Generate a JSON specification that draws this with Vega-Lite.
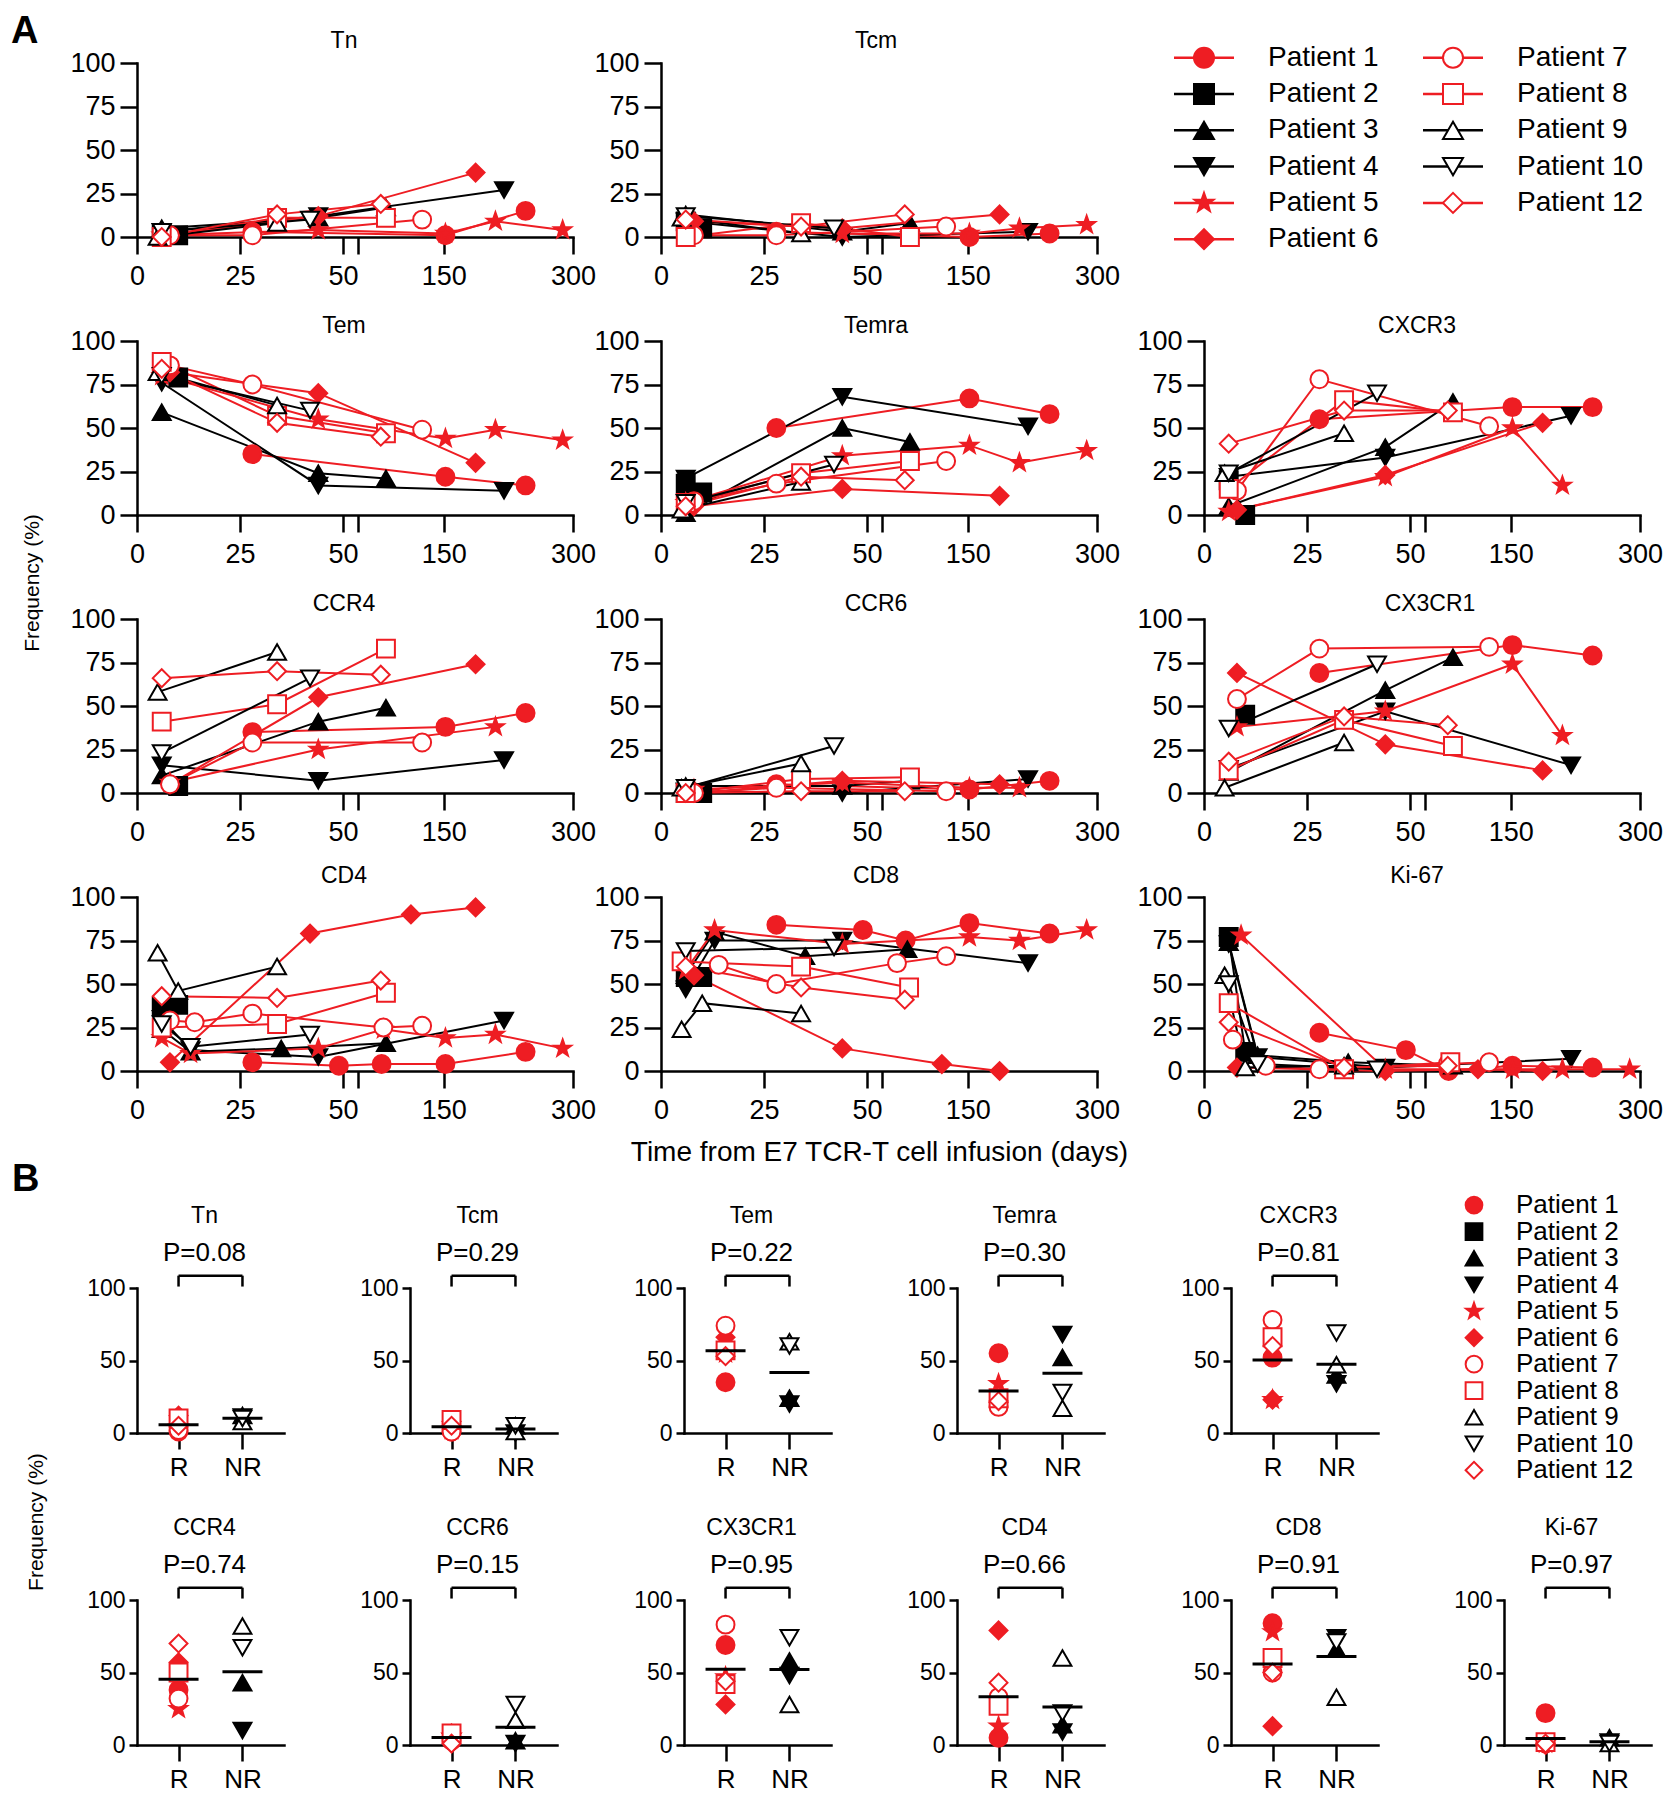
{
"$schema":"https://vega.github.io/schema/vega-lite/v6.json",
"background":"white",
"padding":{"left":11,"top":13,"right":0,"bottom":0},
"config":{
 "view":{"stroke":null},
 "font":"Liberation Sans",
 "axis":{"domainColor":"#000","domainWidth":2.5,"domainCap":"square","tickColor":"#000","tickWidth":2.5,"labelColor":"#000","labelFont":"Liberation Sans","labelFontSize":27,"grid":false,"titleFont":"Liberation Sans","titleFontWeight":"normal","titleColor":"#000","titleFontSize":24,"labelOverlap":false,"labelFlush":false,"tickSize":17,"labelPadding":9},
 "axisY":{"labelPadding":5},
 "title":{"font":"Liberation Sans","fontSize":23,"fontWeight":"normal","color":"#000","offset":-11,"subtitleFont":"Liberation Sans","subtitleFontSize":26,"subtitleColor":"#000","subtitlePadding":12},
 "line":{"strokeWidth":2},
 "point":{"opacity":1,"strokeWidth":2,"size":320},
 "tick":{"opacity":1},
 "rule":{"strokeWidth":2.5,"color":"#000"}
},
"datasets":{
"ts":[
{"m":"Tn","p":1,"d":28,"v":3},{"m":"Tn","p":1,"d":152,"v":1},{"m":"Tn","p":1,"d":245,"v":15},
{"m":"Tn","p":2,"d":6,"v":2},{"m":"Tn","p":2,"d":10,"v":1},
{"m":"Tn","p":3,"d":6,"v":5},{"m":"Tn","p":3,"d":44,"v":11},{"m":"Tn","p":3,"d":83,"v":17},
{"m":"Tn","p":4,"d":6,"v":3},{"m":"Tn","p":4,"d":44,"v":12},{"m":"Tn","p":4,"d":220,"v":27},
{"m":"Tn","p":5,"d":6,"v":1},{"m":"Tn","p":5,"d":44,"v":4},{"m":"Tn","p":5,"d":152,"v":2},{"m":"Tn","p":5,"d":210,"v":9},{"m":"Tn","p":5,"d":288,"v":4},
{"m":"Tn","p":6,"d":8,"v":1},{"m":"Tn","p":6,"d":44,"v":12},{"m":"Tn","p":6,"d":187,"v":37},
{"m":"Tn","p":7,"d":8,"v":1},{"m":"Tn","p":7,"d":28,"v":1},{"m":"Tn","p":7,"d":125,"v":10},
{"m":"Tn","p":8,"d":6,"v":0},{"m":"Tn","p":8,"d":34,"v":11},{"m":"Tn","p":8,"d":83,"v":11},
{"m":"Tn","p":9,"d":5,"v":0},{"m":"Tn","p":9,"d":34,"v":8},
{"m":"Tn","p":10,"d":6,"v":3},{"m":"Tn","p":10,"d":42,"v":10},
{"m":"Tn","p":12,"d":6,"v":0},{"m":"Tn","p":12,"d":34,"v":13},{"m":"Tn","p":12,"d":77,"v":19},
{"m":"Tcm","p":1,"d":28,"v":3},{"m":"Tcm","p":1,"d":152,"v":0},{"m":"Tcm","p":1,"d":245,"v":2},
{"m":"Tcm","p":2,"d":6,"v":9},{"m":"Tcm","p":2,"d":10,"v":5},
{"m":"Tcm","p":3,"d":6,"v":13},{"m":"Tcm","p":3,"d":44,"v":3},{"m":"Tcm","p":3,"d":83,"v":8},
{"m":"Tcm","p":4,"d":6,"v":9},{"m":"Tcm","p":4,"d":44,"v":0},{"m":"Tcm","p":4,"d":220,"v":3},
{"m":"Tcm","p":5,"d":44,"v":2},{"m":"Tcm","p":5,"d":152,"v":2},{"m":"Tcm","p":5,"d":210,"v":5},{"m":"Tcm","p":5,"d":288,"v":7},
{"m":"Tcm","p":6,"d":8,"v":9},{"m":"Tcm","p":6,"d":44,"v":5},{"m":"Tcm","p":6,"d":187,"v":13},
{"m":"Tcm","p":7,"d":8,"v":1},{"m":"Tcm","p":7,"d":28,"v":1},{"m":"Tcm","p":7,"d":125,"v":6},
{"m":"Tcm","p":8,"d":6,"v":0},{"m":"Tcm","p":8,"d":34,"v":8},{"m":"Tcm","p":8,"d":83,"v":0},
{"m":"Tcm","p":9,"d":5,"v":11},{"m":"Tcm","p":9,"d":34,"v":2},
{"m":"Tcm","p":10,"d":6,"v":12},{"m":"Tcm","p":10,"d":42,"v":5},
{"m":"Tcm","p":12,"d":6,"v":10},{"m":"Tcm","p":12,"d":34,"v":6},{"m":"Tcm","p":12,"d":77,"v":13},
{"m":"Tem","p":1,"d":28,"v":35},{"m":"Tem","p":1,"d":152,"v":22},{"m":"Tem","p":1,"d":245,"v":17},
{"m":"Tem","p":2,"d":10,"v":79},
{"m":"Tem","p":3,"d":6,"v":59},{"m":"Tem","p":3,"d":44,"v":24},{"m":"Tem","p":3,"d":83,"v":21},
{"m":"Tem","p":4,"d":6,"v":76},{"m":"Tem","p":4,"d":44,"v":17},{"m":"Tem","p":4,"d":220,"v":14},
{"m":"Tem","p":5,"d":6,"v":80},{"m":"Tem","p":5,"d":44,"v":55},{"m":"Tem","p":5,"d":152,"v":44},{"m":"Tem","p":5,"d":210,"v":49},{"m":"Tem","p":5,"d":288,"v":43},
{"m":"Tem","p":6,"d":8,"v":82},{"m":"Tem","p":6,"d":44,"v":70},{"m":"Tem","p":6,"d":187,"v":30},
{"m":"Tem","p":7,"d":8,"v":86},{"m":"Tem","p":7,"d":28,"v":75},{"m":"Tem","p":7,"d":125,"v":49},
{"m":"Tem","p":8,"d":6,"v":88},{"m":"Tem","p":8,"d":34,"v":57},{"m":"Tem","p":8,"d":83,"v":47},
{"m":"Tem","p":9,"d":5,"v":82},{"m":"Tem","p":9,"d":34,"v":63},
{"m":"Tem","p":10,"d":6,"v":80},{"m":"Tem","p":10,"d":42,"v":60},
{"m":"Tem","p":12,"d":6,"v":84},{"m":"Tem","p":12,"d":34,"v":53},{"m":"Tem","p":12,"d":77,"v":45},
{"m":"Temra","p":1,"d":28,"v":50},{"m":"Temra","p":1,"d":152,"v":67},{"m":"Temra","p":1,"d":245,"v":58},
{"m":"Temra","p":2,"d":6,"v":18},{"m":"Temra","p":2,"d":10,"v":13},
{"m":"Temra","p":3,"d":6,"v":1},{"m":"Temra","p":3,"d":44,"v":50},{"m":"Temra","p":3,"d":83,"v":42},
{"m":"Temra","p":4,"d":6,"v":21},{"m":"Temra","p":4,"d":44,"v":68},{"m":"Temra","p":4,"d":220,"v":51},
{"m":"Temra","p":5,"d":6,"v":7},{"m":"Temra","p":5,"d":44,"v":34},{"m":"Temra","p":5,"d":152,"v":40},{"m":"Temra","p":5,"d":210,"v":30},{"m":"Temra","p":5,"d":288,"v":37},
{"m":"Temra","p":6,"d":8,"v":5},{"m":"Temra","p":6,"d":44,"v":15},{"m":"Temra","p":6,"d":187,"v":11},
{"m":"Temra","p":7,"d":8,"v":8},{"m":"Temra","p":7,"d":28,"v":18},{"m":"Temra","p":7,"d":125,"v":31},
{"m":"Temra","p":8,"d":6,"v":7},{"m":"Temra","p":8,"d":34,"v":24},{"m":"Temra","p":8,"d":83,"v":31},
{"m":"Temra","p":9,"d":5,"v":3},{"m":"Temra","p":9,"d":34,"v":19},
{"m":"Temra","p":10,"d":6,"v":7},{"m":"Temra","p":10,"d":42,"v":29},
{"m":"Temra","p":12,"d":6,"v":5},{"m":"Temra","p":12,"d":34,"v":22},{"m":"Temra","p":12,"d":77,"v":20},
{"m":"CXCR3","p":1,"d":28,"v":55},{"m":"CXCR3","p":1,"d":152,"v":62},{"m":"CXCR3","p":1,"d":245,"v":62},
{"m":"CXCR3","p":2,"d":6,"v":20},{"m":"CXCR3","p":2,"d":10,"v":0},
{"m":"CXCR3","p":3,"d":6,"v":5},{"m":"CXCR3","p":3,"d":44,"v":39},{"m":"CXCR3","p":3,"d":83,"v":65},
{"m":"CXCR3","p":4,"d":6,"v":22},{"m":"CXCR3","p":4,"d":44,"v":33},{"m":"CXCR3","p":4,"d":220,"v":57},
{"m":"CXCR3","p":5,"d":6,"v":2},{"m":"CXCR3","p":5,"d":44,"v":22},{"m":"CXCR3","p":5,"d":152,"v":50},{"m":"CXCR3","p":5,"d":210,"v":17},
{"m":"CXCR3","p":6,"d":8,"v":3},{"m":"CXCR3","p":6,"d":44,"v":23},{"m":"CXCR3","p":6,"d":187,"v":53},
{"m":"CXCR3","p":7,"d":8,"v":14},{"m":"CXCR3","p":7,"d":28,"v":78},{"m":"CXCR3","p":7,"d":125,"v":51},
{"m":"CXCR3","p":8,"d":6,"v":15},{"m":"CXCR3","p":8,"d":34,"v":66},{"m":"CXCR3","p":8,"d":83,"v":59},
{"m":"CXCR3","p":9,"d":5,"v":24},{"m":"CXCR3","p":9,"d":34,"v":47},
{"m":"CXCR3","p":10,"d":6,"v":24},{"m":"CXCR3","p":10,"d":42,"v":70},
{"m":"CXCR3","p":12,"d":6,"v":41},{"m":"CXCR3","p":12,"d":34,"v":60},{"m":"CXCR3","p":12,"d":77,"v":60},
{"m":"CCR4","p":1,"d":28,"v":35},{"m":"CCR4","p":1,"d":152,"v":38},{"m":"CCR4","p":1,"d":245,"v":46},
{"m":"CCR4","p":2,"d":10,"v":4},
{"m":"CCR4","p":3,"d":6,"v":10},{"m":"CCR4","p":3,"d":44,"v":41},{"m":"CCR4","p":3,"d":83,"v":49},
{"m":"CCR4","p":4,"d":6,"v":16},{"m":"CCR4","p":4,"d":44,"v":7},{"m":"CCR4","p":4,"d":220,"v":19},
{"m":"CCR4","p":5,"d":8,"v":6},{"m":"CCR4","p":5,"d":44,"v":25},{"m":"CCR4","p":5,"d":210,"v":38},
{"m":"CCR4","p":6,"d":8,"v":5},{"m":"CCR4","p":6,"d":44,"v":55},{"m":"CCR4","p":6,"d":187,"v":74},
{"m":"CCR4","p":7,"d":8,"v":5},{"m":"CCR4","p":7,"d":28,"v":29},{"m":"CCR4","p":7,"d":125,"v":29},
{"m":"CCR4","p":8,"d":6,"v":41},{"m":"CCR4","p":8,"d":34,"v":51},{"m":"CCR4","p":8,"d":83,"v":83},
{"m":"CCR4","p":9,"d":5,"v":58},{"m":"CCR4","p":9,"d":34,"v":81},
{"m":"CCR4","p":10,"d":6,"v":23},{"m":"CCR4","p":10,"d":42,"v":66},
{"m":"CCR4","p":12,"d":6,"v":66},{"m":"CCR4","p":12,"d":34,"v":70},{"m":"CCR4","p":12,"d":77,"v":68},
{"m":"CCR6","p":1,"d":28,"v":5},{"m":"CCR6","p":1,"d":152,"v":2},{"m":"CCR6","p":1,"d":245,"v":7},
{"m":"CCR6","p":2,"d":6,"v":0},{"m":"CCR6","p":2,"d":10,"v":0},
{"m":"CCR6","p":3,"d":6,"v":4},{"m":"CCR6","p":3,"d":44,"v":4},{"m":"CCR6","p":3,"d":83,"v":7},
{"m":"CCR6","p":4,"d":6,"v":1},{"m":"CCR6","p":4,"d":44,"v":0},{"m":"CCR6","p":4,"d":220,"v":8},
{"m":"CCR6","p":5,"d":8,"v":2},{"m":"CCR6","p":5,"d":44,"v":6},{"m":"CCR6","p":5,"d":152,"v":3},{"m":"CCR6","p":5,"d":210,"v":3},
{"m":"CCR6","p":6,"d":8,"v":0},{"m":"CCR6","p":6,"d":44,"v":7},{"m":"CCR6","p":6,"d":187,"v":5},
{"m":"CCR6","p":7,"d":8,"v":0},{"m":"CCR6","p":7,"d":28,"v":3},{"m":"CCR6","p":7,"d":125,"v":1},
{"m":"CCR6","p":8,"d":6,"v":0},{"m":"CCR6","p":8,"d":34,"v":8},{"m":"CCR6","p":8,"d":83,"v":9},
{"m":"CCR6","p":9,"d":5,"v":3},{"m":"CCR6","p":9,"d":34,"v":17},
{"m":"CCR6","p":10,"d":6,"v":3},{"m":"CCR6","p":10,"d":42,"v":27},
{"m":"CCR6","p":12,"d":6,"v":0},{"m":"CCR6","p":12,"d":34,"v":1},{"m":"CCR6","p":12,"d":77,"v":1},
{"m":"CX3CR1","p":1,"d":28,"v":69},{"m":"CX3CR1","p":1,"d":152,"v":85},{"m":"CX3CR1","p":1,"d":245,"v":79},
{"m":"CX3CR1","p":2,"d":10,"v":45},
{"m":"CX3CR1","p":3,"d":6,"v":12},{"m":"CX3CR1","p":3,"d":44,"v":59},{"m":"CX3CR1","p":3,"d":83,"v":78},
{"m":"CX3CR1","p":4,"d":6,"v":14},{"m":"CX3CR1","p":4,"d":44,"v":47},{"m":"CX3CR1","p":4,"d":220,"v":16},
{"m":"CX3CR1","p":5,"d":8,"v":38},{"m":"CX3CR1","p":5,"d":44,"v":47},{"m":"CX3CR1","p":5,"d":152,"v":74},{"m":"CX3CR1","p":5,"d":210,"v":33},
{"m":"CX3CR1","p":6,"d":8,"v":69},{"m":"CX3CR1","p":6,"d":44,"v":28},{"m":"CX3CR1","p":6,"d":187,"v":13},
{"m":"CX3CR1","p":7,"d":8,"v":54},{"m":"CX3CR1","p":7,"d":28,"v":83},{"m":"CX3CR1","p":7,"d":125,"v":84},
{"m":"CX3CR1","p":8,"d":6,"v":13},{"m":"CX3CR1","p":8,"d":34,"v":42},{"m":"CX3CR1","p":8,"d":83,"v":27},
{"m":"CX3CR1","p":9,"d":5,"v":3},{"m":"CX3CR1","p":9,"d":34,"v":29},
{"m":"CX3CR1","p":10,"d":6,"v":37},{"m":"CX3CR1","p":10,"d":42,"v":74},
{"m":"CX3CR1","p":12,"d":6,"v":18},{"m":"CX3CR1","p":12,"d":34,"v":44},{"m":"CX3CR1","p":12,"d":77,"v":39},
{"m":"CD4","p":1,"d":28,"v":5},{"m":"CD4","p":1,"d":49,"v":3},{"m":"CD4","p":1,"d":78,"v":4},{"m":"CD4","p":1,"d":152,"v":4},{"m":"CD4","p":1,"d":245,"v":11},
{"m":"CD4","p":2,"d":6,"v":37},{"m":"CD4","p":2,"d":10,"v":38},
{"m":"CD4","p":3,"d":6,"v":24},{"m":"CD4","p":3,"d":13,"v":11},{"m":"CD4","p":3,"d":35,"v":13},{"m":"CD4","p":3,"d":83,"v":16},
{"m":"CD4","p":4,"d":6,"v":30},{"m":"CD4","p":4,"d":13,"v":12},{"m":"CD4","p":4,"d":44,"v":8},{"m":"CD4","p":4,"d":220,"v":29},
{"m":"CD4","p":5,"d":6,"v":19},{"m":"CD4","p":5,"d":13,"v":10},{"m":"CD4","p":5,"d":44,"v":13},{"m":"CD4","p":5,"d":80,"v":24},{"m":"CD4","p":5,"d":152,"v":19},{"m":"CD4","p":5,"d":210,"v":21},{"m":"CD4","p":5,"d":288,"v":13},
{"m":"CD4","p":6,"d":8,"v":5},{"m":"CD4","p":6,"d":42,"v":79},{"m":"CD4","p":6,"d":112,"v":90},{"m":"CD4","p":6,"d":187,"v":94},
{"m":"CD4","p":7,"d":8,"v":29},{"m":"CD4","p":7,"d":14,"v":28},{"m":"CD4","p":7,"d":28,"v":33},{"m":"CD4","p":7,"d":80,"v":25},{"m":"CD4","p":7,"d":125,"v":26},
{"m":"CD4","p":8,"d":6,"v":25},{"m":"CD4","p":8,"d":34,"v":27},{"m":"CD4","p":8,"d":83,"v":45},
{"m":"CD4","p":9,"d":5,"v":68},{"m":"CD4","p":9,"d":10,"v":46},{"m":"CD4","p":9,"d":34,"v":60},
{"m":"CD4","p":10,"d":6,"v":27},{"m":"CD4","p":10,"d":13,"v":14},{"m":"CD4","p":10,"d":42,"v":21},
{"m":"CD4","p":12,"d":6,"v":43},{"m":"CD4","p":12,"d":34,"v":42},{"m":"CD4","p":12,"d":77,"v":52},
{"m":"CD8","p":1,"d":28,"v":84},{"m":"CD8","p":1,"d":49,"v":81},{"m":"CD8","p":1,"d":78,"v":75},{"m":"CD8","p":1,"d":152,"v":85},{"m":"CD8","p":1,"d":245,"v":79},
{"m":"CD8","p":2,"d":6,"v":54},{"m":"CD8","p":2,"d":10,"v":54},
{"m":"CD8","p":3,"d":6,"v":55},{"m":"CD8","p":3,"d":13,"v":80},{"m":"CD8","p":3,"d":35,"v":66},{"m":"CD8","p":3,"d":80,"v":70},
{"m":"CD8","p":4,"d":6,"v":47},{"m":"CD8","p":4,"d":13,"v":75},{"m":"CD8","p":4,"d":44,"v":75},{"m":"CD8","p":4,"d":220,"v":62},
{"m":"CD8","p":5,"d":6,"v":58},{"m":"CD8","p":5,"d":13,"v":81},{"m":"CD8","p":5,"d":44,"v":73},{"m":"CD8","p":5,"d":152,"v":77},{"m":"CD8","p":5,"d":210,"v":75},{"m":"CD8","p":5,"d":288,"v":81},
{"m":"CD8","p":6,"d":8,"v":55},{"m":"CD8","p":6,"d":44,"v":13},{"m":"CD8","p":6,"d":120,"v":4},{"m":"CD8","p":6,"d":187,"v":0},
{"m":"CD8","p":7,"d":14,"v":61},{"m":"CD8","p":7,"d":28,"v":50},{"m":"CD8","p":7,"d":68,"v":62},{"m":"CD8","p":7,"d":125,"v":66},
{"m":"CD8","p":8,"d":5,"v":63},{"m":"CD8","p":8,"d":34,"v":60},{"m":"CD8","p":8,"d":82,"v":48},
{"m":"CD8","p":9,"d":5,"v":24},{"m":"CD8","p":9,"d":10,"v":39},{"m":"CD8","p":9,"d":34,"v":33},
{"m":"CD8","p":10,"d":6,"v":69},{"m":"CD8","p":10,"d":42,"v":71},
{"m":"CD8","p":12,"d":6,"v":60},{"m":"CD8","p":12,"d":34,"v":48},{"m":"CD8","p":12,"d":77,"v":41},
{"m":"Ki-67","p":1,"d":28,"v":22},{"m":"Ki-67","p":1,"d":49,"v":12},{"m":"Ki-67","p":1,"d":78,"v":0},{"m":"Ki-67","p":1,"d":152,"v":3},{"m":"Ki-67","p":1,"d":245,"v":2},
{"m":"Ki-67","p":2,"d":6,"v":77},{"m":"Ki-67","p":2,"d":10,"v":11},
{"m":"Ki-67","p":3,"d":6,"v":74},{"m":"Ki-67","p":3,"d":13,"v":9},{"m":"Ki-67","p":3,"d":35,"v":5},{"m":"Ki-67","p":3,"d":83,"v":3},
{"m":"Ki-67","p":4,"d":6,"v":73},{"m":"Ki-67","p":4,"d":13,"v":8},{"m":"Ki-67","p":4,"d":44,"v":2},{"m":"Ki-67","p":4,"d":220,"v":7},
{"m":"Ki-67","p":5,"d":9,"v":78},{"m":"Ki-67","p":5,"d":44,"v":1},{"m":"Ki-67","p":5,"d":152,"v":1},{"m":"Ki-67","p":5,"d":210,"v":1},{"m":"Ki-67","p":5,"d":288,"v":1},
{"m":"Ki-67","p":6,"d":8,"v":2},{"m":"Ki-67","p":6,"d":44,"v":0},{"m":"Ki-67","p":6,"d":112,"v":1},{"m":"Ki-67","p":6,"d":187,"v":0},
{"m":"Ki-67","p":7,"d":7,"v":18},{"m":"Ki-67","p":7,"d":15,"v":3},{"m":"Ki-67","p":7,"d":28,"v":1},{"m":"Ki-67","p":7,"d":77,"v":4},{"m":"Ki-67","p":7,"d":125,"v":5},
{"m":"Ki-67","p":8,"d":6,"v":39},{"m":"Ki-67","p":8,"d":34,"v":1},{"m":"Ki-67","p":8,"d":80,"v":5},
{"m":"Ki-67","p":9,"d":5,"v":55},{"m":"Ki-67","p":9,"d":10,"v":2},{"m":"Ki-67","p":9,"d":34,"v":3},
{"m":"Ki-67","p":10,"d":6,"v":50},{"m":"Ki-67","p":10,"d":13,"v":4},{"m":"Ki-67","p":10,"d":42,"v":1},
{"m":"Ki-67","p":12,"d":6,"v":28},{"m":"Ki-67","p":12,"d":34,"v":2},{"m":"Ki-67","p":12,"d":77,"v":3}
],
"bs":[
{"m":"Tn","g":"R","p":1,"v":1},{"m":"Tn","g":"R","p":5,"v":4},{"m":"Tn","g":"R","p":6,"v":12},{"m":"Tn","g":"R","p":7,"v":2},{"m":"Tn","g":"R","p":8,"v":10},{"m":"Tn","g":"R","p":12,"v":5},
{"m":"Tn","g":"NR","p":3,"v":12},{"m":"Tn","g":"NR","p":4,"v":11},{"m":"Tn","g":"NR","p":9,"v":8},{"m":"Tn","g":"NR","p":10,"v":10},
{"m":"Tcm","g":"R","p":1,"v":1},{"m":"Tcm","g":"R","p":5,"v":2},{"m":"Tcm","g":"R","p":6,"v":8},{"m":"Tcm","g":"R","p":7,"v":1},{"m":"Tcm","g":"R","p":8,"v":9},{"m":"Tcm","g":"R","p":12,"v":5},
{"m":"Tcm","g":"NR","p":3,"v":5},{"m":"Tcm","g":"NR","p":4,"v":0},{"m":"Tcm","g":"NR","p":9,"v":1},{"m":"Tcm","g":"NR","p":10,"v":5},
{"m":"Tem","g":"R","p":1,"v":35},{"m":"Tem","g":"R","p":5,"v":55},{"m":"Tem","g":"R","p":6,"v":66},{"m":"Tem","g":"R","p":7,"v":74},{"m":"Tem","g":"R","p":8,"v":57},{"m":"Tem","g":"R","p":12,"v":53},
{"m":"Tem","g":"NR","p":3,"v":24},{"m":"Tem","g":"NR","p":4,"v":20},{"m":"Tem","g":"NR","p":9,"v":63},{"m":"Tem","g":"NR","p":10,"v":60},
{"m":"Temra","g":"R","p":1,"v":55},{"m":"Temra","g":"R","p":5,"v":34},{"m":"Temra","g":"R","p":6,"v":21},{"m":"Temra","g":"R","p":7,"v":18},{"m":"Temra","g":"R","p":8,"v":24},{"m":"Temra","g":"R","p":12,"v":22},
{"m":"Temra","g":"NR","p":3,"v":52},{"m":"Temra","g":"NR","p":4,"v":68},{"m":"Temra","g":"NR","p":9,"v":17},{"m":"Temra","g":"NR","p":10,"v":28},
{"m":"CXCR3","g":"R","p":1,"v":52},{"m":"CXCR3","g":"R","p":5,"v":23},{"m":"CXCR3","g":"R","p":6,"v":23},{"m":"CXCR3","g":"R","p":7,"v":78},{"m":"CXCR3","g":"R","p":8,"v":66},{"m":"CXCR3","g":"R","p":12,"v":60},
{"m":"CXCR3","g":"NR","p":3,"v":40},{"m":"CXCR3","g":"NR","p":4,"v":34},{"m":"CXCR3","g":"NR","p":9,"v":47},{"m":"CXCR3","g":"NR","p":10,"v":69},
{"m":"CCR4","g":"R","p":1,"v":38},{"m":"CCR4","g":"R","p":5,"v":25},{"m":"CCR4","g":"R","p":6,"v":57},{"m":"CCR4","g":"R","p":7,"v":32},{"m":"CCR4","g":"R","p":8,"v":50},{"m":"CCR4","g":"R","p":12,"v":70},
{"m":"CCR4","g":"NR","p":3,"v":43},{"m":"CCR4","g":"NR","p":4,"v":10},{"m":"CCR4","g":"NR","p":9,"v":82},{"m":"CCR4","g":"NR","p":10,"v":67},
{"m":"CCR6","g":"R","p":1,"v":5},{"m":"CCR6","g":"R","p":5,"v":6},{"m":"CCR6","g":"R","p":6,"v":8},{"m":"CCR6","g":"R","p":7,"v":3},{"m":"CCR6","g":"R","p":8,"v":8},{"m":"CCR6","g":"R","p":12,"v":1},
{"m":"CCR6","g":"NR","p":3,"v":3},{"m":"CCR6","g":"NR","p":4,"v":1},{"m":"CCR6","g":"NR","p":9,"v":17},{"m":"CCR6","g":"NR","p":10,"v":28},
{"m":"CX3CR1","g":"R","p":1,"v":69},{"m":"CX3CR1","g":"R","p":5,"v":47},{"m":"CX3CR1","g":"R","p":6,"v":28},{"m":"CX3CR1","g":"R","p":7,"v":83},{"m":"CX3CR1","g":"R","p":8,"v":42},{"m":"CX3CR1","g":"R","p":12,"v":44},
{"m":"CX3CR1","g":"NR","p":3,"v":58},{"m":"CX3CR1","g":"NR","p":4,"v":48},{"m":"CX3CR1","g":"NR","p":9,"v":28},{"m":"CX3CR1","g":"NR","p":10,"v":74},
{"m":"CD4","g":"R","p":1,"v":5},{"m":"CD4","g":"R","p":5,"v":13},{"m":"CD4","g":"R","p":6,"v":79},{"m":"CD4","g":"R","p":7,"v":33},{"m":"CD4","g":"R","p":8,"v":27},{"m":"CD4","g":"R","p":12,"v":43},
{"m":"CD4","g":"NR","p":3,"v":14},{"m":"CD4","g":"NR","p":4,"v":9},{"m":"CD4","g":"NR","p":9,"v":60},{"m":"CD4","g":"NR","p":10,"v":22},
{"m":"CD8","g":"R","p":1,"v":84},{"m":"CD8","g":"R","p":5,"v":78},{"m":"CD8","g":"R","p":6,"v":13},{"m":"CD8","g":"R","p":7,"v":50},{"m":"CD8","g":"R","p":8,"v":60},{"m":"CD8","g":"R","p":12,"v":50},
{"m":"CD8","g":"NR","p":3,"v":66},{"m":"CD8","g":"NR","p":4,"v":74},{"m":"CD8","g":"NR","p":9,"v":33},{"m":"CD8","g":"NR","p":10,"v":71},
{"m":"Ki-67","g":"R","p":1,"v":22},{"m":"Ki-67","g":"R","p":5,"v":1},{"m":"Ki-67","g":"R","p":6,"v":0},{"m":"Ki-67","g":"R","p":7,"v":1},{"m":"Ki-67","g":"R","p":8,"v":2},{"m":"Ki-67","g":"R","p":12,"v":1},
{"m":"Ki-67","g":"NR","p":3,"v":5},{"m":"Ki-67","g":"NR","p":4,"v":2},{"m":"Ki-67","g":"NR","p":9,"v":1},{"m":"Ki-67","g":"NR","p":10,"v":1}
],
"legA":[
{"p":1,"name":"Patient 1","r":1,"c":0},{"p":2,"name":"Patient 2","r":2,"c":0},{"p":3,"name":"Patient 3","r":3,"c":0},{"p":4,"name":"Patient 4","r":4,"c":0},{"p":5,"name":"Patient 5","r":5,"c":0},{"p":6,"name":"Patient 6","r":6,"c":0},
{"p":7,"name":"Patient 7","r":1,"c":1},{"p":8,"name":"Patient 8","r":2,"c":1},{"p":9,"name":"Patient 9","r":3,"c":1},{"p":10,"name":"Patient 10","r":4,"c":1},{"p":12,"name":"Patient 12","r":5,"c":1}
],
"legB":[
{"p":1,"name":"Patient 1","r":1},{"p":2,"name":"Patient 2","r":2},{"p":3,"name":"Patient 3","r":3},{"p":4,"name":"Patient 4","r":4},{"p":5,"name":"Patient 5","r":5},{"p":6,"name":"Patient 6","r":6},
{"p":7,"name":"Patient 7","r":7},{"p":8,"name":"Patient 8","r":8},{"p":9,"name":"Patient 9","r":9},{"p":10,"name":"Patient 10","r":10},{"p":12,"name":"Patient 12","r":11}
]
},
"spacing":-5,
"vconcat":[
{"title":{"text":"A","anchor":"start","frame":"group","fontSize":38,"fontWeight":"bold","dx":-126,"offset":-21},
 "vconcat":[
 {"title":{"text":"Frequency (%)","orient":"left","anchor":"middle","frame":"bounds","fontSize":21,"fontWeight":"normal","offset":27,"dx":15},
  "spacing":26,
  "vconcat":[
  {"spacing":0,"bounds":"flush","hconcat":[
    {"width":436,"height":174,"title":{"text":"Tn","dx":-11,"offset":-4},"data":{"name":"ts"},
     "encoding":{"x":{"field":"d","type":"quantitative","scale":{"domain":[0,50,50.001,300],"range":[0,206,220.5,436],"nice":false,"zero":false},"axis":{"values":[0,25,50,50.001,150,300],"format":"d","labelExpr":"datum.value>50&&datum.value<51?'':datum.label","title":null}},
                 "y":{"field":"v","type":"quantitative","scale":{"domain":[0,100],"nice":false},"axis":{"values":[0,25,50,75,100],"title":null}}},
     "layer":[
      {"transform":[{"filter":"datum.m==='Tn'"}],"mark":{"type":"line"},"encoding":{"color":{"field":"p","type":"nominal","scale":{"domain":[1,2,3,4,5,6,7,8,9,10,12],"range":["#ee1d23","#000000","#000000","#000000","#ee1d23","#ee1d23","#ee1d23","#ee1d23","#000000","#000000","#ee1d23"]},"legend":null},"order":{"field":"d","type":"quantitative"}}},
      {"data":{"values":[{}]},"mark":{"type":"rect","color":"#ffffff","xOffset":1.5,"x2Offset":-1.5},"encoding":{"x":{"datum":50},"x2":{"datum":50.001},"y":{"datum":-3},"y2":{"datum":100}}},
      {"transform":[{"filter":"datum.m==='Tn'"}],"mark":{"type":"point"},"encoding":{"shape":{"field":"p","type":"nominal","scale":{"domain":[1,2,3,4,5,6,7,8,9,10,12],"range":["circle","square","triangle-up","triangle-down","M0,-1L0.235,-0.324L0.951,-0.309L0.38,0.124L0.588,0.809L0,0.4L-0.588,0.809L-0.38,0.124L-0.951,-0.309L-0.235,-0.324Z","diamond","circle","square","triangle-up","triangle-down","diamond"]},"legend":null},"stroke":{"field":"p","type":"nominal","scale":{"domain":[1,2,3,4,5,6,7,8,9,10,12],"range":["#ee1d23","#000000","#000000","#000000","#ee1d23","#ee1d23","#ee1d23","#ee1d23","#000000","#000000","#ee1d23"]},"legend":null},"fill":{"field":"p","type":"nominal","scale":{"domain":[1,2,3,4,5,6,7,8,9,10,12],"range":["#ee1d23","#000000","#000000","#000000","#ee1d23","#ee1d23","#ffffff","#ffffff","#ffffff","#ffffff","#ffffff"]},"legend":null}}}
     ]},
    {"width":88,"height":174,"data":{"values":[]},"mark":"point"},
    {"width":436,"height":174,"title":{"text":"Tcm","dx":-3,"offset":-4},"data":{"name":"ts"},
     "encoding":{"x":{"field":"d","type":"quantitative","scale":{"domain":[0,50,50.001,300],"range":[0,206,220.5,436],"nice":false,"zero":false},"axis":{"values":[0,25,50,50.001,150,300],"format":"d","labelExpr":"datum.value>50&&datum.value<51?'':datum.label","title":null}},
                 "y":{"field":"v","type":"quantitative","scale":{"domain":[0,100],"nice":false},"axis":{"values":[0,25,50,75,100],"title":null}}},
     "layer":[
      {"transform":[{"filter":"datum.m==='Tcm'"}],"mark":{"type":"line"},"encoding":{"color":{"field":"p","type":"nominal","scale":{"domain":[1,2,3,4,5,6,7,8,9,10,12],"range":["#ee1d23","#000000","#000000","#000000","#ee1d23","#ee1d23","#ee1d23","#ee1d23","#000000","#000000","#ee1d23"]},"legend":null},"order":{"field":"d","type":"quantitative"}}},
      {"data":{"values":[{}]},"mark":{"type":"rect","color":"#ffffff","xOffset":1.5,"x2Offset":-1.5},"encoding":{"x":{"datum":50},"x2":{"datum":50.001},"y":{"datum":-3},"y2":{"datum":100}}},
      {"transform":[{"filter":"datum.m==='Tcm'"}],"mark":{"type":"point"},"encoding":{"shape":{"field":"p","type":"nominal","scale":{"domain":[1,2,3,4,5,6,7,8,9,10,12],"range":["circle","square","triangle-up","triangle-down","M0,-1L0.235,-0.324L0.951,-0.309L0.38,0.124L0.588,0.809L0,0.4L-0.588,0.809L-0.38,0.124L-0.951,-0.309L-0.235,-0.324Z","diamond","circle","square","triangle-up","triangle-down","diamond"]},"legend":null},"stroke":{"field":"p","type":"nominal","scale":{"domain":[1,2,3,4,5,6,7,8,9,10,12],"range":["#ee1d23","#000000","#000000","#000000","#ee1d23","#ee1d23","#ee1d23","#ee1d23","#000000","#000000","#ee1d23"]},"legend":null},"fill":{"field":"p","type":"nominal","scale":{"domain":[1,2,3,4,5,6,7,8,9,10,12],"range":["#ee1d23","#000000","#000000","#000000","#ee1d23","#ee1d23","#ffffff","#ffffff","#ffffff","#ffffff","#ffffff"]},"legend":null}}}
     ]},
    {"width":107,"height":174,"data":{"values":[]},"mark":"point"},
    {"width":249,"height":174,"data":{"name":"legA"},
     "encoding":{"x":{"field":"c","type":"quantitative","scale":{"domain":[0,1],"nice":false},"axis":null},"y":{"field":"r","type":"quantitative","scale":{"domain":[5.94,1.146],"nice":false,"zero":false},"axis":null}},
     "layer":[
      {"mark":{"type":"rule","strokeWidth":2.5,"xOffset":-30,"x2Offset":30},"encoding":{"x2":{"field":"c"},"color":{"field":"p","type":"nominal","scale":{"domain":[1,2,3,4,5,6,7,8,9,10,12],"range":["#ee1d23","#000000","#000000","#000000","#ee1d23","#ee1d23","#ee1d23","#ee1d23","#000000","#000000","#ee1d23"]},"legend":null}}},
      {"mark":{"type":"point","size":400},"encoding":{"shape":{"field":"p","type":"nominal","scale":{"domain":[1,2,3,4,5,6,7,8,9,10,12],"range":["circle","square","triangle-up","triangle-down","M0,-1L0.235,-0.324L0.951,-0.309L0.38,0.124L0.588,0.809L0,0.4L-0.588,0.809L-0.38,0.124L-0.951,-0.309L-0.235,-0.324Z","diamond","circle","square","triangle-up","triangle-down","diamond"]},"legend":null},"stroke":{"field":"p","type":"nominal","scale":{"domain":[1,2,3,4,5,6,7,8,9,10,12],"range":["#ee1d23","#000000","#000000","#000000","#ee1d23","#ee1d23","#ee1d23","#ee1d23","#000000","#000000","#ee1d23"]},"legend":null},"fill":{"field":"p","type":"nominal","scale":{"domain":[1,2,3,4,5,6,7,8,9,10,12],"range":["#ee1d23","#000000","#000000","#000000","#ee1d23","#ee1d23","#ffffff","#ffffff","#ffffff","#ffffff","#ffffff"]},"legend":null}}},
      {"mark":{"type":"text","align":"left","baseline":"middle","dx":64,"fontSize":28,"color":"#000"},"encoding":{"text":{"field":"name"}}}
     ]}
  ]},
  {"spacing":0,"bounds":"flush","hconcat":[
    {"width":436,"height":174,"title":{"text":"Tem","dx":-11},"data":{"name":"ts"},
     "encoding":{"x":{"field":"d","type":"quantitative","scale":{"domain":[0,50,50.001,300],"range":[0,206,220.5,436],"nice":false,"zero":false},"axis":{"values":[0,25,50,50.001,150,300],"format":"d","labelExpr":"datum.value>50&&datum.value<51?'':datum.label","title":null}},
                 "y":{"field":"v","type":"quantitative","scale":{"domain":[0,100],"nice":false},"axis":{"values":[0,25,50,75,100],"title":null}}},
     "layer":[
      {"transform":[{"filter":"datum.m==='Tem'"}],"mark":{"type":"line"},"encoding":{"color":{"field":"p","type":"nominal","scale":{"domain":[1,2,3,4,5,6,7,8,9,10,12],"range":["#ee1d23","#000000","#000000","#000000","#ee1d23","#ee1d23","#ee1d23","#ee1d23","#000000","#000000","#ee1d23"]},"legend":null},"order":{"field":"d","type":"quantitative"}}},
      {"data":{"values":[{}]},"mark":{"type":"rect","color":"#ffffff","xOffset":1.5,"x2Offset":-1.5},"encoding":{"x":{"datum":50},"x2":{"datum":50.001},"y":{"datum":-3},"y2":{"datum":100}}},
      {"transform":[{"filter":"datum.m==='Tem'"}],"mark":{"type":"point"},"encoding":{"shape":{"field":"p","type":"nominal","scale":{"domain":[1,2,3,4,5,6,7,8,9,10,12],"range":["circle","square","triangle-up","triangle-down","M0,-1L0.235,-0.324L0.951,-0.309L0.38,0.124L0.588,0.809L0,0.4L-0.588,0.809L-0.38,0.124L-0.951,-0.309L-0.235,-0.324Z","diamond","circle","square","triangle-up","triangle-down","diamond"]},"legend":null},"stroke":{"field":"p","type":"nominal","scale":{"domain":[1,2,3,4,5,6,7,8,9,10,12],"range":["#ee1d23","#000000","#000000","#000000","#ee1d23","#ee1d23","#ee1d23","#ee1d23","#000000","#000000","#ee1d23"]},"legend":null},"fill":{"field":"p","type":"nominal","scale":{"domain":[1,2,3,4,5,6,7,8,9,10,12],"range":["#ee1d23","#000000","#000000","#000000","#ee1d23","#ee1d23","#ffffff","#ffffff","#ffffff","#ffffff","#ffffff"]},"legend":null}}}
     ]},
    {"width":88,"height":174,"data":{"values":[]},"mark":"point"},
    {"width":436,"height":174,"title":{"text":"Temra","dx":-3},"data":{"name":"ts"},
     "encoding":{"x":{"field":"d","type":"quantitative","scale":{"domain":[0,50,50.001,300],"range":[0,206,220.5,436],"nice":false,"zero":false},"axis":{"values":[0,25,50,50.001,150,300],"format":"d","labelExpr":"datum.value>50&&datum.value<51?'':datum.label","title":null}},
                 "y":{"field":"v","type":"quantitative","scale":{"domain":[0,100],"nice":false},"axis":{"values":[0,25,50,75,100],"title":null}}},
     "layer":[
      {"transform":[{"filter":"datum.m==='Temra'"}],"mark":{"type":"line"},"encoding":{"color":{"field":"p","type":"nominal","scale":{"domain":[1,2,3,4,5,6,7,8,9,10,12],"range":["#ee1d23","#000000","#000000","#000000","#ee1d23","#ee1d23","#ee1d23","#ee1d23","#000000","#000000","#ee1d23"]},"legend":null},"order":{"field":"d","type":"quantitative"}}},
      {"data":{"values":[{}]},"mark":{"type":"rect","color":"#ffffff","xOffset":1.5,"x2Offset":-1.5},"encoding":{"x":{"datum":50},"x2":{"datum":50.001},"y":{"datum":-3},"y2":{"datum":100}}},
      {"transform":[{"filter":"datum.m==='Temra'"}],"mark":{"type":"point"},"encoding":{"shape":{"field":"p","type":"nominal","scale":{"domain":[1,2,3,4,5,6,7,8,9,10,12],"range":["circle","square","triangle-up","triangle-down","M0,-1L0.235,-0.324L0.951,-0.309L0.38,0.124L0.588,0.809L0,0.4L-0.588,0.809L-0.38,0.124L-0.951,-0.309L-0.235,-0.324Z","diamond","circle","square","triangle-up","triangle-down","diamond"]},"legend":null},"stroke":{"field":"p","type":"nominal","scale":{"domain":[1,2,3,4,5,6,7,8,9,10,12],"range":["#ee1d23","#000000","#000000","#000000","#ee1d23","#ee1d23","#ee1d23","#ee1d23","#000000","#000000","#ee1d23"]},"legend":null},"fill":{"field":"p","type":"nominal","scale":{"domain":[1,2,3,4,5,6,7,8,9,10,12],"range":["#ee1d23","#000000","#000000","#000000","#ee1d23","#ee1d23","#ffffff","#ffffff","#ffffff","#ffffff","#ffffff"]},"legend":null}}}
     ]},
    {"width":107,"height":174,"data":{"values":[]},"mark":"point"},
    {"width":436,"height":174,"title":{"text":"CXCR3","dx":-5},"data":{"name":"ts"},
     "encoding":{"x":{"field":"d","type":"quantitative","scale":{"domain":[0,50,50.001,300],"range":[0,206,220.5,436],"nice":false,"zero":false},"axis":{"values":[0,25,50,50.001,150,300],"format":"d","labelExpr":"datum.value>50&&datum.value<51?'':datum.label","title":null}},
                 "y":{"field":"v","type":"quantitative","scale":{"domain":[0,100],"nice":false},"axis":{"values":[0,25,50,75,100],"title":null}}},
     "layer":[
      {"transform":[{"filter":"datum.m==='CXCR3'"}],"mark":{"type":"line"},"encoding":{"color":{"field":"p","type":"nominal","scale":{"domain":[1,2,3,4,5,6,7,8,9,10,12],"range":["#ee1d23","#000000","#000000","#000000","#ee1d23","#ee1d23","#ee1d23","#ee1d23","#000000","#000000","#ee1d23"]},"legend":null},"order":{"field":"d","type":"quantitative"}}},
      {"data":{"values":[{}]},"mark":{"type":"rect","color":"#ffffff","xOffset":1.5,"x2Offset":-1.5},"encoding":{"x":{"datum":50},"x2":{"datum":50.001},"y":{"datum":-3},"y2":{"datum":100}}},
      {"transform":[{"filter":"datum.m==='CXCR3'"}],"mark":{"type":"point"},"encoding":{"shape":{"field":"p","type":"nominal","scale":{"domain":[1,2,3,4,5,6,7,8,9,10,12],"range":["circle","square","triangle-up","triangle-down","M0,-1L0.235,-0.324L0.951,-0.309L0.38,0.124L0.588,0.809L0,0.4L-0.588,0.809L-0.38,0.124L-0.951,-0.309L-0.235,-0.324Z","diamond","circle","square","triangle-up","triangle-down","diamond"]},"legend":null},"stroke":{"field":"p","type":"nominal","scale":{"domain":[1,2,3,4,5,6,7,8,9,10,12],"range":["#ee1d23","#000000","#000000","#000000","#ee1d23","#ee1d23","#ee1d23","#ee1d23","#000000","#000000","#ee1d23"]},"legend":null},"fill":{"field":"p","type":"nominal","scale":{"domain":[1,2,3,4,5,6,7,8,9,10,12],"range":["#ee1d23","#000000","#000000","#000000","#ee1d23","#ee1d23","#ffffff","#ffffff","#ffffff","#ffffff","#ffffff"]},"legend":null}}}
     ]}
  ]},
  {"spacing":20,
   "vconcat":[
  {"spacing":0,"bounds":"flush","hconcat":[
    {"width":436,"height":174,"title":{"text":"CCR4","dx":-11},"data":{"name":"ts"},
     "encoding":{"x":{"field":"d","type":"quantitative","scale":{"domain":[0,50,50.001,300],"range":[0,206,220.5,436],"nice":false,"zero":false},"axis":{"values":[0,25,50,50.001,150,300],"format":"d","labelExpr":"datum.value>50&&datum.value<51?'':datum.label","title":null}},
                 "y":{"field":"v","type":"quantitative","scale":{"domain":[0,100],"nice":false},"axis":{"values":[0,25,50,75,100],"title":null}}},
     "layer":[
      {"transform":[{"filter":"datum.m==='CCR4'"}],"mark":{"type":"line"},"encoding":{"color":{"field":"p","type":"nominal","scale":{"domain":[1,2,3,4,5,6,7,8,9,10,12],"range":["#ee1d23","#000000","#000000","#000000","#ee1d23","#ee1d23","#ee1d23","#ee1d23","#000000","#000000","#ee1d23"]},"legend":null},"order":{"field":"d","type":"quantitative"}}},
      {"data":{"values":[{}]},"mark":{"type":"rect","color":"#ffffff","xOffset":1.5,"x2Offset":-1.5},"encoding":{"x":{"datum":50},"x2":{"datum":50.001},"y":{"datum":-3},"y2":{"datum":100}}},
      {"transform":[{"filter":"datum.m==='CCR4'"}],"mark":{"type":"point"},"encoding":{"shape":{"field":"p","type":"nominal","scale":{"domain":[1,2,3,4,5,6,7,8,9,10,12],"range":["circle","square","triangle-up","triangle-down","M0,-1L0.235,-0.324L0.951,-0.309L0.38,0.124L0.588,0.809L0,0.4L-0.588,0.809L-0.38,0.124L-0.951,-0.309L-0.235,-0.324Z","diamond","circle","square","triangle-up","triangle-down","diamond"]},"legend":null},"stroke":{"field":"p","type":"nominal","scale":{"domain":[1,2,3,4,5,6,7,8,9,10,12],"range":["#ee1d23","#000000","#000000","#000000","#ee1d23","#ee1d23","#ee1d23","#ee1d23","#000000","#000000","#ee1d23"]},"legend":null},"fill":{"field":"p","type":"nominal","scale":{"domain":[1,2,3,4,5,6,7,8,9,10,12],"range":["#ee1d23","#000000","#000000","#000000","#ee1d23","#ee1d23","#ffffff","#ffffff","#ffffff","#ffffff","#ffffff"]},"legend":null}}}
     ]},
    {"width":88,"height":174,"data":{"values":[]},"mark":"point"},
    {"width":436,"height":174,"title":{"text":"CCR6","dx":-3},"data":{"name":"ts"},
     "encoding":{"x":{"field":"d","type":"quantitative","scale":{"domain":[0,50,50.001,300],"range":[0,206,220.5,436],"nice":false,"zero":false},"axis":{"values":[0,25,50,50.001,150,300],"format":"d","labelExpr":"datum.value>50&&datum.value<51?'':datum.label","title":null}},
                 "y":{"field":"v","type":"quantitative","scale":{"domain":[0,100],"nice":false},"axis":{"values":[0,25,50,75,100],"title":null}}},
     "layer":[
      {"transform":[{"filter":"datum.m==='CCR6'"}],"mark":{"type":"line"},"encoding":{"color":{"field":"p","type":"nominal","scale":{"domain":[1,2,3,4,5,6,7,8,9,10,12],"range":["#ee1d23","#000000","#000000","#000000","#ee1d23","#ee1d23","#ee1d23","#ee1d23","#000000","#000000","#ee1d23"]},"legend":null},"order":{"field":"d","type":"quantitative"}}},
      {"data":{"values":[{}]},"mark":{"type":"rect","color":"#ffffff","xOffset":1.5,"x2Offset":-1.5},"encoding":{"x":{"datum":50},"x2":{"datum":50.001},"y":{"datum":-3},"y2":{"datum":100}}},
      {"transform":[{"filter":"datum.m==='CCR6'"}],"mark":{"type":"point"},"encoding":{"shape":{"field":"p","type":"nominal","scale":{"domain":[1,2,3,4,5,6,7,8,9,10,12],"range":["circle","square","triangle-up","triangle-down","M0,-1L0.235,-0.324L0.951,-0.309L0.38,0.124L0.588,0.809L0,0.4L-0.588,0.809L-0.38,0.124L-0.951,-0.309L-0.235,-0.324Z","diamond","circle","square","triangle-up","triangle-down","diamond"]},"legend":null},"stroke":{"field":"p","type":"nominal","scale":{"domain":[1,2,3,4,5,6,7,8,9,10,12],"range":["#ee1d23","#000000","#000000","#000000","#ee1d23","#ee1d23","#ee1d23","#ee1d23","#000000","#000000","#ee1d23"]},"legend":null},"fill":{"field":"p","type":"nominal","scale":{"domain":[1,2,3,4,5,6,7,8,9,10,12],"range":["#ee1d23","#000000","#000000","#000000","#ee1d23","#ee1d23","#ffffff","#ffffff","#ffffff","#ffffff","#ffffff"]},"legend":null}}}
     ]},
    {"width":107,"height":174,"data":{"values":[]},"mark":"point"},
    {"width":436,"height":174,"title":{"text":"CX3CR1","dx":8},"data":{"name":"ts"},
     "encoding":{"x":{"field":"d","type":"quantitative","scale":{"domain":[0,50,50.001,300],"range":[0,206,220.5,436],"nice":false,"zero":false},"axis":{"values":[0,25,50,50.001,150,300],"format":"d","labelExpr":"datum.value>50&&datum.value<51?'':datum.label","title":null}},
                 "y":{"field":"v","type":"quantitative","scale":{"domain":[0,100],"nice":false},"axis":{"values":[0,25,50,75,100],"title":null}}},
     "layer":[
      {"transform":[{"filter":"datum.m==='CX3CR1'"}],"mark":{"type":"line"},"encoding":{"color":{"field":"p","type":"nominal","scale":{"domain":[1,2,3,4,5,6,7,8,9,10,12],"range":["#ee1d23","#000000","#000000","#000000","#ee1d23","#ee1d23","#ee1d23","#ee1d23","#000000","#000000","#ee1d23"]},"legend":null},"order":{"field":"d","type":"quantitative"}}},
      {"data":{"values":[{}]},"mark":{"type":"rect","color":"#ffffff","xOffset":1.5,"x2Offset":-1.5},"encoding":{"x":{"datum":50},"x2":{"datum":50.001},"y":{"datum":-3},"y2":{"datum":100}}},
      {"transform":[{"filter":"datum.m==='CX3CR1'"}],"mark":{"type":"point"},"encoding":{"shape":{"field":"p","type":"nominal","scale":{"domain":[1,2,3,4,5,6,7,8,9,10,12],"range":["circle","square","triangle-up","triangle-down","M0,-1L0.235,-0.324L0.951,-0.309L0.38,0.124L0.588,0.809L0,0.4L-0.588,0.809L-0.38,0.124L-0.951,-0.309L-0.235,-0.324Z","diamond","circle","square","triangle-up","triangle-down","diamond"]},"legend":null},"stroke":{"field":"p","type":"nominal","scale":{"domain":[1,2,3,4,5,6,7,8,9,10,12],"range":["#ee1d23","#000000","#000000","#000000","#ee1d23","#ee1d23","#ee1d23","#ee1d23","#000000","#000000","#ee1d23"]},"legend":null},"fill":{"field":"p","type":"nominal","scale":{"domain":[1,2,3,4,5,6,7,8,9,10,12],"range":["#ee1d23","#000000","#000000","#000000","#ee1d23","#ee1d23","#ffffff","#ffffff","#ffffff","#ffffff","#ffffff"]},"legend":null}}}
     ]}
  ]},
  {"spacing":0,"bounds":"flush","hconcat":[
    {"width":436,"height":174,"title":{"text":"CD4","dx":-11,"offset":-5},"data":{"name":"ts"},
     "encoding":{"x":{"field":"d","type":"quantitative","scale":{"domain":[0,50,50.001,300],"range":[0,206,220.5,436],"nice":false,"zero":false},"axis":{"values":[0,25,50,50.001,150,300],"format":"d","labelExpr":"datum.value>50&&datum.value<51?'':datum.label","title":null}},
                 "y":{"field":"v","type":"quantitative","scale":{"domain":[0,100],"nice":false},"axis":{"values":[0,25,50,75,100],"title":null}}},
     "layer":[
      {"transform":[{"filter":"datum.m==='CD4'"}],"mark":{"type":"line"},"encoding":{"color":{"field":"p","type":"nominal","scale":{"domain":[1,2,3,4,5,6,7,8,9,10,12],"range":["#ee1d23","#000000","#000000","#000000","#ee1d23","#ee1d23","#ee1d23","#ee1d23","#000000","#000000","#ee1d23"]},"legend":null},"order":{"field":"d","type":"quantitative"}}},
      {"data":{"values":[{}]},"mark":{"type":"rect","color":"#ffffff","xOffset":1.5,"x2Offset":-1.5},"encoding":{"x":{"datum":50},"x2":{"datum":50.001},"y":{"datum":-3},"y2":{"datum":100}}},
      {"transform":[{"filter":"datum.m==='CD4'"}],"mark":{"type":"point"},"encoding":{"shape":{"field":"p","type":"nominal","scale":{"domain":[1,2,3,4,5,6,7,8,9,10,12],"range":["circle","square","triangle-up","triangle-down","M0,-1L0.235,-0.324L0.951,-0.309L0.38,0.124L0.588,0.809L0,0.4L-0.588,0.809L-0.38,0.124L-0.951,-0.309L-0.235,-0.324Z","diamond","circle","square","triangle-up","triangle-down","diamond"]},"legend":null},"stroke":{"field":"p","type":"nominal","scale":{"domain":[1,2,3,4,5,6,7,8,9,10,12],"range":["#ee1d23","#000000","#000000","#000000","#ee1d23","#ee1d23","#ee1d23","#ee1d23","#000000","#000000","#ee1d23"]},"legend":null},"fill":{"field":"p","type":"nominal","scale":{"domain":[1,2,3,4,5,6,7,8,9,10,12],"range":["#ee1d23","#000000","#000000","#000000","#ee1d23","#ee1d23","#ffffff","#ffffff","#ffffff","#ffffff","#ffffff"]},"legend":null}}}
     ]},
    {"width":88,"height":174,"data":{"values":[]},"mark":"point"},
    {"width":436,"height":174,"title":{"text":"CD8","dx":-3,"offset":-5},"data":{"name":"ts"},
     "encoding":{"x":{"field":"d","type":"quantitative","scale":{"domain":[0,50,50.001,300],"range":[0,206,220.5,436],"nice":false,"zero":false},"axis":{"values":[0,25,50,50.001,150,300],"format":"d","labelExpr":"datum.value>50&&datum.value<51?'':datum.label","title":"Time from E7 TCR-T cell infusion (days)","titleFontSize":28,"titlePadding":15}},
                 "y":{"field":"v","type":"quantitative","scale":{"domain":[0,100],"nice":false},"axis":{"values":[0,25,50,75,100],"title":null}}},
     "layer":[
      {"transform":[{"filter":"datum.m==='CD8'"}],"mark":{"type":"line"},"encoding":{"color":{"field":"p","type":"nominal","scale":{"domain":[1,2,3,4,5,6,7,8,9,10,12],"range":["#ee1d23","#000000","#000000","#000000","#ee1d23","#ee1d23","#ee1d23","#ee1d23","#000000","#000000","#ee1d23"]},"legend":null},"order":{"field":"d","type":"quantitative"}}},
      {"data":{"values":[{}]},"mark":{"type":"rect","color":"#ffffff","xOffset":1.5,"x2Offset":-1.5},"encoding":{"x":{"datum":50},"x2":{"datum":50.001},"y":{"datum":-3},"y2":{"datum":100}}},
      {"transform":[{"filter":"datum.m==='CD8'"}],"mark":{"type":"point"},"encoding":{"shape":{"field":"p","type":"nominal","scale":{"domain":[1,2,3,4,5,6,7,8,9,10,12],"range":["circle","square","triangle-up","triangle-down","M0,-1L0.235,-0.324L0.951,-0.309L0.38,0.124L0.588,0.809L0,0.4L-0.588,0.809L-0.38,0.124L-0.951,-0.309L-0.235,-0.324Z","diamond","circle","square","triangle-up","triangle-down","diamond"]},"legend":null},"stroke":{"field":"p","type":"nominal","scale":{"domain":[1,2,3,4,5,6,7,8,9,10,12],"range":["#ee1d23","#000000","#000000","#000000","#ee1d23","#ee1d23","#ee1d23","#ee1d23","#000000","#000000","#ee1d23"]},"legend":null},"fill":{"field":"p","type":"nominal","scale":{"domain":[1,2,3,4,5,6,7,8,9,10,12],"range":["#ee1d23","#000000","#000000","#000000","#ee1d23","#ee1d23","#ffffff","#ffffff","#ffffff","#ffffff","#ffffff"]},"legend":null}}}
     ]},
    {"width":107,"height":174,"data":{"values":[]},"mark":"point"},
    {"width":436,"height":174,"title":{"text":"Ki-67","dx":-5,"offset":-5},"data":{"name":"ts"},
     "encoding":{"x":{"field":"d","type":"quantitative","scale":{"domain":[0,50,50.001,300],"range":[0,206,220.5,436],"nice":false,"zero":false},"axis":{"values":[0,25,50,50.001,150,300],"format":"d","labelExpr":"datum.value>50&&datum.value<51?'':datum.label","title":null}},
                 "y":{"field":"v","type":"quantitative","scale":{"domain":[0,100],"nice":false},"axis":{"values":[0,25,50,75,100],"title":null}}},
     "layer":[
      {"transform":[{"filter":"datum.m==='Ki-67'"}],"mark":{"type":"line"},"encoding":{"color":{"field":"p","type":"nominal","scale":{"domain":[1,2,3,4,5,6,7,8,9,10,12],"range":["#ee1d23","#000000","#000000","#000000","#ee1d23","#ee1d23","#ee1d23","#ee1d23","#000000","#000000","#ee1d23"]},"legend":null},"order":{"field":"d","type":"quantitative"}}},
      {"data":{"values":[{}]},"mark":{"type":"rect","color":"#ffffff","xOffset":1.5,"x2Offset":-1.5},"encoding":{"x":{"datum":50},"x2":{"datum":50.001},"y":{"datum":-3},"y2":{"datum":100}}},
      {"transform":[{"filter":"datum.m==='Ki-67'"}],"mark":{"type":"point"},"encoding":{"shape":{"field":"p","type":"nominal","scale":{"domain":[1,2,3,4,5,6,7,8,9,10,12],"range":["circle","square","triangle-up","triangle-down","M0,-1L0.235,-0.324L0.951,-0.309L0.38,0.124L0.588,0.809L0,0.4L-0.588,0.809L-0.38,0.124L-0.951,-0.309L-0.235,-0.324Z","diamond","circle","square","triangle-up","triangle-down","diamond"]},"legend":null},"stroke":{"field":"p","type":"nominal","scale":{"domain":[1,2,3,4,5,6,7,8,9,10,12],"range":["#ee1d23","#000000","#000000","#000000","#ee1d23","#ee1d23","#ee1d23","#ee1d23","#000000","#000000","#ee1d23"]},"legend":null},"fill":{"field":"p","type":"nominal","scale":{"domain":[1,2,3,4,5,6,7,8,9,10,12],"range":["#ee1d23","#000000","#000000","#000000","#ee1d23","#ee1d23","#ffffff","#ffffff","#ffffff","#ffffff","#ffffff"]},"legend":null}}}
     ]}
  ]}
   ]}
  ]}
 ]},
{"title":{"text":"B","anchor":"start","frame":"group","fontSize":38,"fontWeight":"bold","dx":-125,"offset":-7},
 "vconcat":[
 {"title":{"text":"Frequency (%)","orient":"left","anchor":"middle","frame":"bounds","fontSize":21,"fontWeight":"normal","offset":40,"dx":-30},
  "spacing":33,
  "vconcat":[
  {"spacing":0,"bounds":"flush","hconcat":[
    {"width":147,"height":145,"title":{"text":"Tn","subtitle":"P=0.08","offset":8,"dx":-6},
     "layer":[
      {"data":{"name":"bs"},"transform":[{"filter":"datum.m==='Tn'"}],"mark":{"type":"point","size":320},"encoding":{"x":{"field":"g","type":"nominal","scale":{"type":"point","domain":["R","NR"],"padding":0.65},"axis":{"title":null,"labelAngle":0,"tickSize":16,"labelPadding":5,"labelFontSize":26}},"y":{"field":"v","type":"quantitative","scale":{"domain":[0,100],"nice":false},"axis":{"values":[0,50,100],"tickSize":8,"labelFontSize":23,"labelPadding":4,"title":null}},"shape":{"field":"p","type":"nominal","scale":{"domain":[1,2,3,4,5,6,7,8,9,10,12],"range":["circle","square","triangle-up","triangle-down","M0,-1L0.235,-0.324L0.951,-0.309L0.38,0.124L0.588,0.809L0,0.4L-0.588,0.809L-0.38,0.124L-0.951,-0.309L-0.235,-0.324Z","diamond","circle","square","triangle-up","triangle-down","diamond"]},"legend":null},"stroke":{"field":"p","type":"nominal","scale":{"domain":[1,2,3,4,5,6,7,8,9,10,12],"range":["#ee1d23","#000000","#000000","#000000","#ee1d23","#ee1d23","#ee1d23","#ee1d23","#000000","#000000","#ee1d23"]},"legend":null},"fill":{"field":"p","type":"nominal","scale":{"domain":[1,2,3,4,5,6,7,8,9,10,12],"range":["#ee1d23","#000000","#000000","#000000","#ee1d23","#ee1d23","#ffffff","#ffffff","#ffffff","#ffffff","#ffffff"]},"legend":null}}},
      {"data":{"name":"bs"},"transform":[{"filter":"datum.m==='Tn'"}],"mark":{"type":"tick","size":40,"thickness":3,"color":"#000"},"encoding":{"x":{"field":"g","type":"nominal"},"y":{"aggregate":"mean","field":"v","type":"quantitative"}}},
      {"data":{"values":[{}]},"mark":{"type":"rule"},"encoding":{"x":{"datum":"R"},"x2":{"datum":"NR"},"y":{"datum":108.5}}},
      {"data":{"values":[{}]},"mark":{"type":"rule"},"encoding":{"x":{"datum":"R"},"y":{"datum":101},"y2":{"datum":108.5}}},
      {"data":{"values":[{}]},"mark":{"type":"rule"},"encoding":{"x":{"datum":"NR"},"y":{"datum":101},"y2":{"datum":108.5}}}
     ]},
    {"width":126,"height":145,"data":{"values":[]},"mark":"point"},
    {"width":147,"height":145,"title":{"text":"Tcm","subtitle":"P=0.29","offset":8,"dx":-6},
     "layer":[
      {"data":{"name":"bs"},"transform":[{"filter":"datum.m==='Tcm'"}],"mark":{"type":"point","size":320},"encoding":{"x":{"field":"g","type":"nominal","scale":{"type":"point","domain":["R","NR"],"padding":0.65},"axis":{"title":null,"labelAngle":0,"tickSize":16,"labelPadding":5,"labelFontSize":26}},"y":{"field":"v","type":"quantitative","scale":{"domain":[0,100],"nice":false},"axis":{"values":[0,50,100],"tickSize":8,"labelFontSize":23,"labelPadding":4,"title":null}},"shape":{"field":"p","type":"nominal","scale":{"domain":[1,2,3,4,5,6,7,8,9,10,12],"range":["circle","square","triangle-up","triangle-down","M0,-1L0.235,-0.324L0.951,-0.309L0.38,0.124L0.588,0.809L0,0.4L-0.588,0.809L-0.38,0.124L-0.951,-0.309L-0.235,-0.324Z","diamond","circle","square","triangle-up","triangle-down","diamond"]},"legend":null},"stroke":{"field":"p","type":"nominal","scale":{"domain":[1,2,3,4,5,6,7,8,9,10,12],"range":["#ee1d23","#000000","#000000","#000000","#ee1d23","#ee1d23","#ee1d23","#ee1d23","#000000","#000000","#ee1d23"]},"legend":null},"fill":{"field":"p","type":"nominal","scale":{"domain":[1,2,3,4,5,6,7,8,9,10,12],"range":["#ee1d23","#000000","#000000","#000000","#ee1d23","#ee1d23","#ffffff","#ffffff","#ffffff","#ffffff","#ffffff"]},"legend":null}}},
      {"data":{"name":"bs"},"transform":[{"filter":"datum.m==='Tcm'"}],"mark":{"type":"tick","size":40,"thickness":3,"color":"#000"},"encoding":{"x":{"field":"g","type":"nominal"},"y":{"aggregate":"mean","field":"v","type":"quantitative"}}},
      {"data":{"values":[{}]},"mark":{"type":"rule"},"encoding":{"x":{"datum":"R"},"x2":{"datum":"NR"},"y":{"datum":108.5}}},
      {"data":{"values":[{}]},"mark":{"type":"rule"},"encoding":{"x":{"datum":"R"},"y":{"datum":101},"y2":{"datum":108.5}}},
      {"data":{"values":[{}]},"mark":{"type":"rule"},"encoding":{"x":{"datum":"NR"},"y":{"datum":101},"y2":{"datum":108.5}}}
     ]},
    {"width":127,"height":145,"data":{"values":[]},"mark":"point"},
    {"width":147,"height":145,"title":{"text":"Tem","subtitle":"P=0.22","offset":8,"dx":-6},
     "layer":[
      {"data":{"name":"bs"},"transform":[{"filter":"datum.m==='Tem'"}],"mark":{"type":"point","size":320},"encoding":{"x":{"field":"g","type":"nominal","scale":{"type":"point","domain":["R","NR"],"padding":0.65},"axis":{"title":null,"labelAngle":0,"tickSize":16,"labelPadding":5,"labelFontSize":26}},"y":{"field":"v","type":"quantitative","scale":{"domain":[0,100],"nice":false},"axis":{"values":[0,50,100],"tickSize":8,"labelFontSize":23,"labelPadding":4,"title":null}},"shape":{"field":"p","type":"nominal","scale":{"domain":[1,2,3,4,5,6,7,8,9,10,12],"range":["circle","square","triangle-up","triangle-down","M0,-1L0.235,-0.324L0.951,-0.309L0.38,0.124L0.588,0.809L0,0.4L-0.588,0.809L-0.38,0.124L-0.951,-0.309L-0.235,-0.324Z","diamond","circle","square","triangle-up","triangle-down","diamond"]},"legend":null},"stroke":{"field":"p","type":"nominal","scale":{"domain":[1,2,3,4,5,6,7,8,9,10,12],"range":["#ee1d23","#000000","#000000","#000000","#ee1d23","#ee1d23","#ee1d23","#ee1d23","#000000","#000000","#ee1d23"]},"legend":null},"fill":{"field":"p","type":"nominal","scale":{"domain":[1,2,3,4,5,6,7,8,9,10,12],"range":["#ee1d23","#000000","#000000","#000000","#ee1d23","#ee1d23","#ffffff","#ffffff","#ffffff","#ffffff","#ffffff"]},"legend":null}}},
      {"data":{"name":"bs"},"transform":[{"filter":"datum.m==='Tem'"}],"mark":{"type":"tick","size":40,"thickness":3,"color":"#000"},"encoding":{"x":{"field":"g","type":"nominal"},"y":{"aggregate":"mean","field":"v","type":"quantitative"}}},
      {"data":{"values":[{}]},"mark":{"type":"rule"},"encoding":{"x":{"datum":"R"},"x2":{"datum":"NR"},"y":{"datum":108.5}}},
      {"data":{"values":[{}]},"mark":{"type":"rule"},"encoding":{"x":{"datum":"R"},"y":{"datum":101},"y2":{"datum":108.5}}},
      {"data":{"values":[{}]},"mark":{"type":"rule"},"encoding":{"x":{"datum":"NR"},"y":{"datum":101},"y2":{"datum":108.5}}}
     ]},
    {"width":126,"height":145,"data":{"values":[]},"mark":"point"},
    {"width":147,"height":145,"title":{"text":"Temra","subtitle":"P=0.30","offset":8,"dx":-6},
     "layer":[
      {"data":{"name":"bs"},"transform":[{"filter":"datum.m==='Temra'"}],"mark":{"type":"point","size":320},"encoding":{"x":{"field":"g","type":"nominal","scale":{"type":"point","domain":["R","NR"],"padding":0.65},"axis":{"title":null,"labelAngle":0,"tickSize":16,"labelPadding":5,"labelFontSize":26}},"y":{"field":"v","type":"quantitative","scale":{"domain":[0,100],"nice":false},"axis":{"values":[0,50,100],"tickSize":8,"labelFontSize":23,"labelPadding":4,"title":null}},"shape":{"field":"p","type":"nominal","scale":{"domain":[1,2,3,4,5,6,7,8,9,10,12],"range":["circle","square","triangle-up","triangle-down","M0,-1L0.235,-0.324L0.951,-0.309L0.38,0.124L0.588,0.809L0,0.4L-0.588,0.809L-0.38,0.124L-0.951,-0.309L-0.235,-0.324Z","diamond","circle","square","triangle-up","triangle-down","diamond"]},"legend":null},"stroke":{"field":"p","type":"nominal","scale":{"domain":[1,2,3,4,5,6,7,8,9,10,12],"range":["#ee1d23","#000000","#000000","#000000","#ee1d23","#ee1d23","#ee1d23","#ee1d23","#000000","#000000","#ee1d23"]},"legend":null},"fill":{"field":"p","type":"nominal","scale":{"domain":[1,2,3,4,5,6,7,8,9,10,12],"range":["#ee1d23","#000000","#000000","#000000","#ee1d23","#ee1d23","#ffffff","#ffffff","#ffffff","#ffffff","#ffffff"]},"legend":null}}},
      {"data":{"name":"bs"},"transform":[{"filter":"datum.m==='Temra'"}],"mark":{"type":"tick","size":40,"thickness":3,"color":"#000"},"encoding":{"x":{"field":"g","type":"nominal"},"y":{"aggregate":"mean","field":"v","type":"quantitative"}}},
      {"data":{"values":[{}]},"mark":{"type":"rule"},"encoding":{"x":{"datum":"R"},"x2":{"datum":"NR"},"y":{"datum":108.5}}},
      {"data":{"values":[{}]},"mark":{"type":"rule"},"encoding":{"x":{"datum":"R"},"y":{"datum":101},"y2":{"datum":108.5}}},
      {"data":{"values":[{}]},"mark":{"type":"rule"},"encoding":{"x":{"datum":"NR"},"y":{"datum":101},"y2":{"datum":108.5}}}
     ]},
    {"width":127,"height":145,"data":{"values":[]},"mark":"point"},
    {"width":147,"height":145,"title":{"text":"CXCR3","subtitle":"P=0.81","offset":8,"dx":-6},
     "layer":[
      {"data":{"name":"bs"},"transform":[{"filter":"datum.m==='CXCR3'"}],"mark":{"type":"point","size":320},"encoding":{"x":{"field":"g","type":"nominal","scale":{"type":"point","domain":["R","NR"],"padding":0.65},"axis":{"title":null,"labelAngle":0,"tickSize":16,"labelPadding":5,"labelFontSize":26}},"y":{"field":"v","type":"quantitative","scale":{"domain":[0,100],"nice":false},"axis":{"values":[0,50,100],"tickSize":8,"labelFontSize":23,"labelPadding":4,"title":null}},"shape":{"field":"p","type":"nominal","scale":{"domain":[1,2,3,4,5,6,7,8,9,10,12],"range":["circle","square","triangle-up","triangle-down","M0,-1L0.235,-0.324L0.951,-0.309L0.38,0.124L0.588,0.809L0,0.4L-0.588,0.809L-0.38,0.124L-0.951,-0.309L-0.235,-0.324Z","diamond","circle","square","triangle-up","triangle-down","diamond"]},"legend":null},"stroke":{"field":"p","type":"nominal","scale":{"domain":[1,2,3,4,5,6,7,8,9,10,12],"range":["#ee1d23","#000000","#000000","#000000","#ee1d23","#ee1d23","#ee1d23","#ee1d23","#000000","#000000","#ee1d23"]},"legend":null},"fill":{"field":"p","type":"nominal","scale":{"domain":[1,2,3,4,5,6,7,8,9,10,12],"range":["#ee1d23","#000000","#000000","#000000","#ee1d23","#ee1d23","#ffffff","#ffffff","#ffffff","#ffffff","#ffffff"]},"legend":null}}},
      {"data":{"name":"bs"},"transform":[{"filter":"datum.m==='CXCR3'"}],"mark":{"type":"tick","size":40,"thickness":3,"color":"#000"},"encoding":{"x":{"field":"g","type":"nominal"},"y":{"aggregate":"mean","field":"v","type":"quantitative"}}},
      {"data":{"values":[{}]},"mark":{"type":"rule"},"encoding":{"x":{"datum":"R"},"x2":{"datum":"NR"},"y":{"datum":108.5}}},
      {"data":{"values":[{}]},"mark":{"type":"rule"},"encoding":{"x":{"datum":"R"},"y":{"datum":101},"y2":{"datum":108.5}}},
      {"data":{"values":[{}]},"mark":{"type":"rule"},"encoding":{"x":{"datum":"NR"},"y":{"datum":101},"y2":{"datum":108.5}}}
     ]},
    {"width":96,"height":145,"data":{"values":[]},"mark":"point"},
    {"width":30,"height":145,"data":{"name":"legB"},
     "encoding":{"x":{"datum":0,"type":"quantitative","scale":{"domain":[0,1]},"axis":null},"y":{"field":"r","type":"quantitative","scale":{"domain":[9.594,4.126],"nice":false,"zero":false},"axis":null}},
     "layer":[
      {"mark":{"type":"point","size":280},"encoding":{"shape":{"field":"p","type":"nominal","scale":{"domain":[1,2,3,4,5,6,7,8,9,10,12],"range":["circle","square","triangle-up","triangle-down","M0,-1L0.235,-0.324L0.951,-0.309L0.38,0.124L0.588,0.809L0,0.4L-0.588,0.809L-0.38,0.124L-0.951,-0.309L-0.235,-0.324Z","diamond","circle","square","triangle-up","triangle-down","diamond"]},"legend":null},"stroke":{"field":"p","type":"nominal","scale":{"domain":[1,2,3,4,5,6,7,8,9,10,12],"range":["#ee1d23","#000000","#000000","#000000","#ee1d23","#ee1d23","#ee1d23","#ee1d23","#000000","#000000","#ee1d23"]},"legend":null},"fill":{"field":"p","type":"nominal","scale":{"domain":[1,2,3,4,5,6,7,8,9,10,12],"range":["#ee1d23","#000000","#000000","#000000","#ee1d23","#ee1d23","#ffffff","#ffffff","#ffffff","#ffffff","#ffffff"]},"legend":null}}},
      {"mark":{"type":"text","align":"left","baseline":"middle","dx":42,"fontSize":26,"color":"#000"},"encoding":{"text":{"field":"name"}}}
     ]}
  ]},
  {"spacing":0,"bounds":"flush","hconcat":[
    {"width":147,"height":145,"title":{"text":"CCR4","subtitle":"P=0.74","offset":8,"dx":-6},
     "layer":[
      {"data":{"name":"bs"},"transform":[{"filter":"datum.m==='CCR4'"}],"mark":{"type":"point","size":320},"encoding":{"x":{"field":"g","type":"nominal","scale":{"type":"point","domain":["R","NR"],"padding":0.65},"axis":{"title":null,"labelAngle":0,"tickSize":16,"labelPadding":5,"labelFontSize":26}},"y":{"field":"v","type":"quantitative","scale":{"domain":[0,100],"nice":false},"axis":{"values":[0,50,100],"tickSize":8,"labelFontSize":23,"labelPadding":4,"title":null}},"shape":{"field":"p","type":"nominal","scale":{"domain":[1,2,3,4,5,6,7,8,9,10,12],"range":["circle","square","triangle-up","triangle-down","M0,-1L0.235,-0.324L0.951,-0.309L0.38,0.124L0.588,0.809L0,0.4L-0.588,0.809L-0.38,0.124L-0.951,-0.309L-0.235,-0.324Z","diamond","circle","square","triangle-up","triangle-down","diamond"]},"legend":null},"stroke":{"field":"p","type":"nominal","scale":{"domain":[1,2,3,4,5,6,7,8,9,10,12],"range":["#ee1d23","#000000","#000000","#000000","#ee1d23","#ee1d23","#ee1d23","#ee1d23","#000000","#000000","#ee1d23"]},"legend":null},"fill":{"field":"p","type":"nominal","scale":{"domain":[1,2,3,4,5,6,7,8,9,10,12],"range":["#ee1d23","#000000","#000000","#000000","#ee1d23","#ee1d23","#ffffff","#ffffff","#ffffff","#ffffff","#ffffff"]},"legend":null}}},
      {"data":{"name":"bs"},"transform":[{"filter":"datum.m==='CCR4'"}],"mark":{"type":"tick","size":40,"thickness":3,"color":"#000"},"encoding":{"x":{"field":"g","type":"nominal"},"y":{"aggregate":"mean","field":"v","type":"quantitative"}}},
      {"data":{"values":[{}]},"mark":{"type":"rule"},"encoding":{"x":{"datum":"R"},"x2":{"datum":"NR"},"y":{"datum":108.5}}},
      {"data":{"values":[{}]},"mark":{"type":"rule"},"encoding":{"x":{"datum":"R"},"y":{"datum":101},"y2":{"datum":108.5}}},
      {"data":{"values":[{}]},"mark":{"type":"rule"},"encoding":{"x":{"datum":"NR"},"y":{"datum":101},"y2":{"datum":108.5}}}
     ]},
    {"width":126,"height":145,"data":{"values":[]},"mark":"point"},
    {"width":147,"height":145,"title":{"text":"CCR6","subtitle":"P=0.15","offset":8,"dx":-6},
     "layer":[
      {"data":{"name":"bs"},"transform":[{"filter":"datum.m==='CCR6'"}],"mark":{"type":"point","size":320},"encoding":{"x":{"field":"g","type":"nominal","scale":{"type":"point","domain":["R","NR"],"padding":0.65},"axis":{"title":null,"labelAngle":0,"tickSize":16,"labelPadding":5,"labelFontSize":26}},"y":{"field":"v","type":"quantitative","scale":{"domain":[0,100],"nice":false},"axis":{"values":[0,50,100],"tickSize":8,"labelFontSize":23,"labelPadding":4,"title":null}},"shape":{"field":"p","type":"nominal","scale":{"domain":[1,2,3,4,5,6,7,8,9,10,12],"range":["circle","square","triangle-up","triangle-down","M0,-1L0.235,-0.324L0.951,-0.309L0.38,0.124L0.588,0.809L0,0.4L-0.588,0.809L-0.38,0.124L-0.951,-0.309L-0.235,-0.324Z","diamond","circle","square","triangle-up","triangle-down","diamond"]},"legend":null},"stroke":{"field":"p","type":"nominal","scale":{"domain":[1,2,3,4,5,6,7,8,9,10,12],"range":["#ee1d23","#000000","#000000","#000000","#ee1d23","#ee1d23","#ee1d23","#ee1d23","#000000","#000000","#ee1d23"]},"legend":null},"fill":{"field":"p","type":"nominal","scale":{"domain":[1,2,3,4,5,6,7,8,9,10,12],"range":["#ee1d23","#000000","#000000","#000000","#ee1d23","#ee1d23","#ffffff","#ffffff","#ffffff","#ffffff","#ffffff"]},"legend":null}}},
      {"data":{"name":"bs"},"transform":[{"filter":"datum.m==='CCR6'"}],"mark":{"type":"tick","size":40,"thickness":3,"color":"#000"},"encoding":{"x":{"field":"g","type":"nominal"},"y":{"aggregate":"mean","field":"v","type":"quantitative"}}},
      {"data":{"values":[{}]},"mark":{"type":"rule"},"encoding":{"x":{"datum":"R"},"x2":{"datum":"NR"},"y":{"datum":108.5}}},
      {"data":{"values":[{}]},"mark":{"type":"rule"},"encoding":{"x":{"datum":"R"},"y":{"datum":101},"y2":{"datum":108.5}}},
      {"data":{"values":[{}]},"mark":{"type":"rule"},"encoding":{"x":{"datum":"NR"},"y":{"datum":101},"y2":{"datum":108.5}}}
     ]},
    {"width":127,"height":145,"data":{"values":[]},"mark":"point"},
    {"width":147,"height":145,"title":{"text":"CX3CR1","subtitle":"P=0.95","offset":8,"dx":-6},
     "layer":[
      {"data":{"name":"bs"},"transform":[{"filter":"datum.m==='CX3CR1'"}],"mark":{"type":"point","size":320},"encoding":{"x":{"field":"g","type":"nominal","scale":{"type":"point","domain":["R","NR"],"padding":0.65},"axis":{"title":null,"labelAngle":0,"tickSize":16,"labelPadding":5,"labelFontSize":26}},"y":{"field":"v","type":"quantitative","scale":{"domain":[0,100],"nice":false},"axis":{"values":[0,50,100],"tickSize":8,"labelFontSize":23,"labelPadding":4,"title":null}},"shape":{"field":"p","type":"nominal","scale":{"domain":[1,2,3,4,5,6,7,8,9,10,12],"range":["circle","square","triangle-up","triangle-down","M0,-1L0.235,-0.324L0.951,-0.309L0.38,0.124L0.588,0.809L0,0.4L-0.588,0.809L-0.38,0.124L-0.951,-0.309L-0.235,-0.324Z","diamond","circle","square","triangle-up","triangle-down","diamond"]},"legend":null},"stroke":{"field":"p","type":"nominal","scale":{"domain":[1,2,3,4,5,6,7,8,9,10,12],"range":["#ee1d23","#000000","#000000","#000000","#ee1d23","#ee1d23","#ee1d23","#ee1d23","#000000","#000000","#ee1d23"]},"legend":null},"fill":{"field":"p","type":"nominal","scale":{"domain":[1,2,3,4,5,6,7,8,9,10,12],"range":["#ee1d23","#000000","#000000","#000000","#ee1d23","#ee1d23","#ffffff","#ffffff","#ffffff","#ffffff","#ffffff"]},"legend":null}}},
      {"data":{"name":"bs"},"transform":[{"filter":"datum.m==='CX3CR1'"}],"mark":{"type":"tick","size":40,"thickness":3,"color":"#000"},"encoding":{"x":{"field":"g","type":"nominal"},"y":{"aggregate":"mean","field":"v","type":"quantitative"}}},
      {"data":{"values":[{}]},"mark":{"type":"rule"},"encoding":{"x":{"datum":"R"},"x2":{"datum":"NR"},"y":{"datum":108.5}}},
      {"data":{"values":[{}]},"mark":{"type":"rule"},"encoding":{"x":{"datum":"R"},"y":{"datum":101},"y2":{"datum":108.5}}},
      {"data":{"values":[{}]},"mark":{"type":"rule"},"encoding":{"x":{"datum":"NR"},"y":{"datum":101},"y2":{"datum":108.5}}}
     ]},
    {"width":126,"height":145,"data":{"values":[]},"mark":"point"},
    {"width":147,"height":145,"title":{"text":"CD4","subtitle":"P=0.66","offset":8,"dx":-6},
     "layer":[
      {"data":{"name":"bs"},"transform":[{"filter":"datum.m==='CD4'"}],"mark":{"type":"point","size":320},"encoding":{"x":{"field":"g","type":"nominal","scale":{"type":"point","domain":["R","NR"],"padding":0.65},"axis":{"title":null,"labelAngle":0,"tickSize":16,"labelPadding":5,"labelFontSize":26}},"y":{"field":"v","type":"quantitative","scale":{"domain":[0,100],"nice":false},"axis":{"values":[0,50,100],"tickSize":8,"labelFontSize":23,"labelPadding":4,"title":null}},"shape":{"field":"p","type":"nominal","scale":{"domain":[1,2,3,4,5,6,7,8,9,10,12],"range":["circle","square","triangle-up","triangle-down","M0,-1L0.235,-0.324L0.951,-0.309L0.38,0.124L0.588,0.809L0,0.4L-0.588,0.809L-0.38,0.124L-0.951,-0.309L-0.235,-0.324Z","diamond","circle","square","triangle-up","triangle-down","diamond"]},"legend":null},"stroke":{"field":"p","type":"nominal","scale":{"domain":[1,2,3,4,5,6,7,8,9,10,12],"range":["#ee1d23","#000000","#000000","#000000","#ee1d23","#ee1d23","#ee1d23","#ee1d23","#000000","#000000","#ee1d23"]},"legend":null},"fill":{"field":"p","type":"nominal","scale":{"domain":[1,2,3,4,5,6,7,8,9,10,12],"range":["#ee1d23","#000000","#000000","#000000","#ee1d23","#ee1d23","#ffffff","#ffffff","#ffffff","#ffffff","#ffffff"]},"legend":null}}},
      {"data":{"name":"bs"},"transform":[{"filter":"datum.m==='CD4'"}],"mark":{"type":"tick","size":40,"thickness":3,"color":"#000"},"encoding":{"x":{"field":"g","type":"nominal"},"y":{"aggregate":"mean","field":"v","type":"quantitative"}}},
      {"data":{"values":[{}]},"mark":{"type":"rule"},"encoding":{"x":{"datum":"R"},"x2":{"datum":"NR"},"y":{"datum":108.5}}},
      {"data":{"values":[{}]},"mark":{"type":"rule"},"encoding":{"x":{"datum":"R"},"y":{"datum":101},"y2":{"datum":108.5}}},
      {"data":{"values":[{}]},"mark":{"type":"rule"},"encoding":{"x":{"datum":"NR"},"y":{"datum":101},"y2":{"datum":108.5}}}
     ]},
    {"width":127,"height":145,"data":{"values":[]},"mark":"point"},
    {"width":147,"height":145,"title":{"text":"CD8","subtitle":"P=0.91","offset":8,"dx":-6},
     "layer":[
      {"data":{"name":"bs"},"transform":[{"filter":"datum.m==='CD8'"}],"mark":{"type":"point","size":320},"encoding":{"x":{"field":"g","type":"nominal","scale":{"type":"point","domain":["R","NR"],"padding":0.65},"axis":{"title":null,"labelAngle":0,"tickSize":16,"labelPadding":5,"labelFontSize":26}},"y":{"field":"v","type":"quantitative","scale":{"domain":[0,100],"nice":false},"axis":{"values":[0,50,100],"tickSize":8,"labelFontSize":23,"labelPadding":4,"title":null}},"shape":{"field":"p","type":"nominal","scale":{"domain":[1,2,3,4,5,6,7,8,9,10,12],"range":["circle","square","triangle-up","triangle-down","M0,-1L0.235,-0.324L0.951,-0.309L0.38,0.124L0.588,0.809L0,0.4L-0.588,0.809L-0.38,0.124L-0.951,-0.309L-0.235,-0.324Z","diamond","circle","square","triangle-up","triangle-down","diamond"]},"legend":null},"stroke":{"field":"p","type":"nominal","scale":{"domain":[1,2,3,4,5,6,7,8,9,10,12],"range":["#ee1d23","#000000","#000000","#000000","#ee1d23","#ee1d23","#ee1d23","#ee1d23","#000000","#000000","#ee1d23"]},"legend":null},"fill":{"field":"p","type":"nominal","scale":{"domain":[1,2,3,4,5,6,7,8,9,10,12],"range":["#ee1d23","#000000","#000000","#000000","#ee1d23","#ee1d23","#ffffff","#ffffff","#ffffff","#ffffff","#ffffff"]},"legend":null}}},
      {"data":{"name":"bs"},"transform":[{"filter":"datum.m==='CD8'"}],"mark":{"type":"tick","size":40,"thickness":3,"color":"#000"},"encoding":{"x":{"field":"g","type":"nominal"},"y":{"aggregate":"mean","field":"v","type":"quantitative"}}},
      {"data":{"values":[{}]},"mark":{"type":"rule"},"encoding":{"x":{"datum":"R"},"x2":{"datum":"NR"},"y":{"datum":108.5}}},
      {"data":{"values":[{}]},"mark":{"type":"rule"},"encoding":{"x":{"datum":"R"},"y":{"datum":101},"y2":{"datum":108.5}}},
      {"data":{"values":[{}]},"mark":{"type":"rule"},"encoding":{"x":{"datum":"NR"},"y":{"datum":101},"y2":{"datum":108.5}}}
     ]},
    {"width":126,"height":145,"data":{"values":[]},"mark":"point"},
    {"width":147,"height":145,"title":{"text":"Ki-67","subtitle":"P=0.97","offset":8,"dx":-6},
     "layer":[
      {"data":{"name":"bs"},"transform":[{"filter":"datum.m==='Ki-67'"}],"mark":{"type":"point","size":320},"encoding":{"x":{"field":"g","type":"nominal","scale":{"type":"point","domain":["R","NR"],"padding":0.65},"axis":{"title":null,"labelAngle":0,"tickSize":16,"labelPadding":5,"labelFontSize":26}},"y":{"field":"v","type":"quantitative","scale":{"domain":[0,100],"nice":false},"axis":{"values":[0,50,100],"tickSize":8,"labelFontSize":23,"labelPadding":4,"title":null}},"shape":{"field":"p","type":"nominal","scale":{"domain":[1,2,3,4,5,6,7,8,9,10,12],"range":["circle","square","triangle-up","triangle-down","M0,-1L0.235,-0.324L0.951,-0.309L0.38,0.124L0.588,0.809L0,0.4L-0.588,0.809L-0.38,0.124L-0.951,-0.309L-0.235,-0.324Z","diamond","circle","square","triangle-up","triangle-down","diamond"]},"legend":null},"stroke":{"field":"p","type":"nominal","scale":{"domain":[1,2,3,4,5,6,7,8,9,10,12],"range":["#ee1d23","#000000","#000000","#000000","#ee1d23","#ee1d23","#ee1d23","#ee1d23","#000000","#000000","#ee1d23"]},"legend":null},"fill":{"field":"p","type":"nominal","scale":{"domain":[1,2,3,4,5,6,7,8,9,10,12],"range":["#ee1d23","#000000","#000000","#000000","#ee1d23","#ee1d23","#ffffff","#ffffff","#ffffff","#ffffff","#ffffff"]},"legend":null}}},
      {"data":{"name":"bs"},"transform":[{"filter":"datum.m==='Ki-67'"}],"mark":{"type":"tick","size":40,"thickness":3,"color":"#000"},"encoding":{"x":{"field":"g","type":"nominal"},"y":{"aggregate":"mean","field":"v","type":"quantitative"}}},
      {"data":{"values":[{}]},"mark":{"type":"rule"},"encoding":{"x":{"datum":"R"},"x2":{"datum":"NR"},"y":{"datum":108.5}}},
      {"data":{"values":[{}]},"mark":{"type":"rule"},"encoding":{"x":{"datum":"R"},"y":{"datum":101},"y2":{"datum":108.5}}},
      {"data":{"values":[{}]},"mark":{"type":"rule"},"encoding":{"x":{"datum":"NR"},"y":{"datum":101},"y2":{"datum":108.5}}}
     ]}
  ]}
  ]}
 ]}
]
}
